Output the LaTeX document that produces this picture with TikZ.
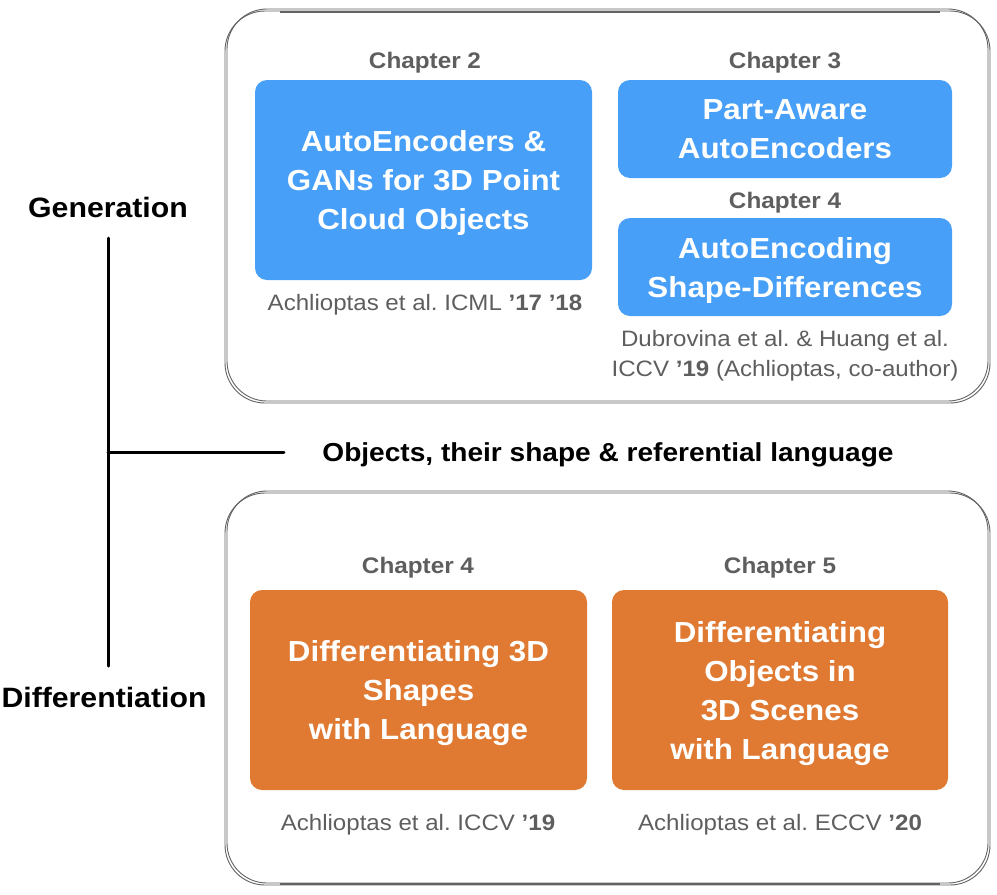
\documentclass[tikz,border=0pt]{standalone}
\usepackage{fontspec}
\setmainfont{Liberation Sans}[FakeStretch=1.08]
\usetikzlibrary{positioning}
\definecolor{chblue}{HTML}{479FF7}
\definecolor{chorange}{HTML}{E07A32}
\definecolor{txtgray}{HTML}{5E5E5E}
\definecolor{framegray}{HTML}{626262}
\tikzset{
    BB/.style ={rectangle,rounded corners=12pt,fill=chblue,text=white,align=center,text depth=0pt,
        font=\bfseries\fontsize{29}{39}\selectfont},
    OB/.style ={rectangle,rounded corners=12pt,fill=chorange,text=white,align=center,text depth=0pt,
        font=\bfseries\fontsize{29}{39}\selectfont},
    CH/.style ={text=txtgray,text depth=0pt,font=\bfseries\fontsize{22.5}{26}\selectfont},
    CAP/.style={text=txtgray,align=center,text depth=0pt,font=\fontsize{22.3}{30}\selectfont},
    SIDE/.style={font=\bfseries\fontsize{28}{32}\selectfont},
    FR/.style ={draw=framegray,rounded corners=40pt,line width=0.9pt},
    TR/.style ={line width=3pt,line cap=round}
}
\begin{document}
\frenchspacing
\begin{tikzpicture}[x=1pt,y=-1pt]
    \useasboundingbox (0,0) rectangle (997,895);
    % sketchy frames
    \draw[FR] (225,11) rectangle (990,403);
    \draw[FR] (227,9) rectangle (988,401);
    \draw[FR,line width=1.6pt] (280,12) -- (940,12);
    \draw[FR] (225,493) rectangle (990,885);
    \draw[FR] (227,491) rectangle (988,883);
    \draw[FR,line width=1.6pt] (280,884) -- (940,884);
    % generation
    \node[BB,minimum width=337pt,minimum height=200pt] (ae) at (423.5,180)
        {AutoEncoders \&\\GANs for 3D Point\\Cloud Objects};
    \node[CH] (ch2) at (425,60) {Chapter 2};
    \node[CAP] (capae) at (425,302) {Achlioptas et al. ICML \textbf{’17 ’18}};
    \node[BB,minimum width=334pt,minimum height=98pt] (pa) at (785,129)
        {Part-Aware\\AutoEncoders};
    \node[CH] (ch3) at (785,60) {Chapter 3};
    \node[BB,minimum width=334pt,minimum height=98pt] (sd) at (785,267)
        {AutoEncoding\\Shape-Differences};
    \node[CH] (ch4a) at (785,200) {Chapter 4};
    \node[CAP] (capsd) at (785,353)
        {Dubrovina et al. \& Huang et al.\\ICCV \textbf{’19} (Achlioptas, co-author)};
    % differentiation
    \node[OB,minimum width=337pt,minimum height=200pt] (ds) at (418.5,690)
        {Differentiating 3D\\Shapes\\with Language};
    \node[CH] (ch4b) at (418,565) {Chapter 4};
    \node[CAP] (capds) at (418,822) {Achlioptas et al. ICCV \textbf{’19}};
    \node[OB,minimum width=336pt,minimum height=200pt] (do) at (780,690)
        {Differentiating\\Objects in\\3D Scenes\\with Language};
    \node[CH] (ch5) at (780,565) {Chapter 5};
    \node[CAP] (capdo) at (780,822) {Achlioptas et al. ECCV \textbf{’20}};
    % tree on the left
    \node[SIDE] (gen) at (108,207) {Generation};
    \node[SIDE] (dif) at (104,697) {Differentiation};
    \node[text depth=0pt,font=\bfseries\fontsize{26}{30}\selectfont] (obj) at (608,452)
        {Objects, their shape \& referential language};
    \coordinate (ttop) at (108,238);
    \coordinate (tbot) at (108,666);
    \coordinate (tmid) at (108,452);
    \coordinate (tend) at (284,452);
    \draw[TR] (ttop) -- (tbot);
    \draw[TR] (tmid) -- (tend);
\end{tikzpicture}
\end{document}
